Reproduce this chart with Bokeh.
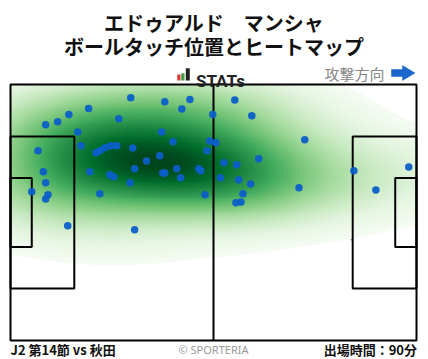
import numpy as np
from bokeh.plotting import figure
from bokeh.models import Range1d, Label, LinearColorMapper
from bokeh.palettes import Greens256
from bokeh.embed import file_html
from bokeh.resources import INLINE

# ---------------- data ----------------
PLAYER = "エドゥアルド　マンシャ"
SUBTITLE = "ボールタッチ位置とヒートマップ"
MATCH = "J2 第14節 vs 秋田"
MINUTES = "出場時間：90分"
DIRECTION = "攻撃方向"

# pitch (m)
PITCH_L, PITCH_W = 105.0, 68.0
PEN_D, PEN_W = 16.5, 40.32
GA_D, GA_W = 5.5, 18.32
CIRCLE_R = 9.15
SPOT_D = 11.0

# ball touches (m), x toward attacking direction, y up
TOUCH_X = [31.1, 39.9, 46.4, 44.3, 20.2, 15.1, 12.2, 9.1, 28.0, 52.3,
           17.4, 39.1, 42.0, 51.5, 53.1, 50.8, 7.1, 18.2, 22.1, 23.1,
           24.4, 25.9, 27.5, 31.6, 38.6, 35.2, 32.1, 43.0, 48.7, 49.2,
           54.3, 39.4, 39.9, 44.0, 20.5, 25.7, 26.7, 30.9, 8.5, 9.1,
           5.5, 9.7, 9.1, 23.1, 50.3, 14.8, 32.1, 58.0, 62.4, 76.1,
           64.2, 55.2, 58.5, 59.0, 62.1, 60.1, 58.3, 59.6, 74.6, 88.8,
           94.5, 103.0]
TOUCH_Y = [64.5, 63.4, 64.0, 61.5, 61.6, 60.0, 58.1, 57.3, 58.9, 60.0,
           55.4, 55.4, 52.8, 53.0, 52.5, 50.4, 50.4, 51.7, 49.9, 50.4,
           51.2, 51.7, 51.7, 51.1, 49.1, 47.7, 45.6, 45.6, 45.6, 45.1,
           43.2, 44.5, 44.5, 43.2, 44.8, 44.0, 43.5, 41.9, 44.8, 41.9,
           39.5, 38.7, 37.6, 39.0, 38.7, 30.5, 29.4, 63.9, 59.7, 53.3,
           48.3, 47.2, 46.7, 42.7, 41.6, 39.0, 36.6, 36.8, 40.6, 45.1,
           40.0, 46.1]

# ---------------- layout ----------------
W, H = 428, 359
SX = 406.0 / PITCH_L
SY = 256.0 / PITCH_W
X0 = -10.0 / SX
X1 = X0 + W / SX
Y1 = PITCH_W + 84.0 / SY
Y0 = Y1 - H / SY


def px(xp):
    return X0 + xp / SX


def py(yp):
    return Y1 - yp / SY


p = figure(width=W, height=H, x_range=Range1d(X0, X1), y_range=Range1d(Y0, Y1),
           output_backend="svg", toolbar_location=None, min_border=0)
p.axis.visible = False
p.grid.visible = False
p.outline_line_color = None
p.background_fill_color = "white"
p.border_fill_color = "white"

# arcs (under heatmap)
p.circle(x=[PITCH_L / 2], y=[PITCH_W / 2], radius=CIRCLE_R, fill_color=None,
         line_color="black", line_width=1)
ang = np.arccos((PEN_D - SPOT_D) / CIRCLE_R)
p.arc(x=[SPOT_D], y=[PITCH_W / 2], radius=CIRCLE_R, start_angle=-ang, end_angle=ang,
      line_color="black", line_width=1)
p.arc(x=[PITCH_L - SPOT_D], y=[PITCH_W / 2], radius=CIRCLE_R,
      start_angle=np.pi - ang, end_angle=np.pi + ang, line_color="black", line_width=1)

# heatmap (KDE of touches)
xs = np.array(TOUCH_X)
ys = np.array(TOUCH_Y)
n = len(xs)
fac = n ** (-1.0 / 6.0) * 1.6
cov = np.cov(np.vstack([xs, ys])) * fac ** 2
inv = np.linalg.inv(cov)
gx = np.linspace(0, PITCH_L, 421)
gy = np.linspace(0, PITCH_W, 273)
GX, GY = np.meshgrid(gx, gy)
dx = GX.ravel()[None, :] - xs[:, None]
dy = GY.ravel()[None, :] - ys[:, None]
q = inv[0, 0] * dx * dx + 2 * inv[0, 1] * dx * dy + inv[1, 1] * dy * dy
dens = np.exp(-0.5 * q).sum(axis=0).reshape(GX.shape)
dmax = dens.max()
thr = 0.028 * dmax
t = np.clip((dens - thr) / (dmax - thr), 0, 1) ** 0.8
img = np.where(dens >= thr, t, np.nan)
mapper = LinearColorMapper(palette=list(Greens256)[::-1], low=0, high=1,
                           nan_color="rgba(0,0,0,0)")
p.image(image=[img], x=0, y=0, dw=PITCH_L, dh=PITCH_W, color_mapper=mapper)

# pitch lines
lw = 2
p.quad(left=[0], right=[PITCH_L], bottom=[0], top=[PITCH_W], fill_color=None,
       line_color="black", line_width=lw)
p.segment(x0=[PITCH_L / 2], y0=[0], x1=[PITCH_L / 2], y1=[PITCH_W],
          line_color="black", line_width=lw)
cy = PITCH_W / 2
p.quad(left=[0, PITCH_L - PEN_D, 0, PITCH_L - GA_D],
       right=[PEN_D, PITCH_L, GA_D, PITCH_L],
       bottom=[cy - PEN_W / 2, cy - PEN_W / 2, cy - GA_W / 2, cy - GA_W / 2],
       top=[cy + PEN_W / 2, cy + PEN_W / 2, cy + GA_W / 2, cy + GA_W / 2],
       fill_color=None, line_color="black", line_width=lw)

# touches
p.scatter(x=xs, y=ys, size=7.5, fill_color="#0b5fc9", line_color=None, fill_alpha=0.95)

# ---------------- texts ----------------
JP = "Noto Sans CJK JP"
p.add_layout(Label(x=px(213.5), y=py(21.5), text=PLAYER, text_align="center",
                   text_baseline="middle", text_font=JP, text_font_size="20px",
                   text_font_style="bold", text_color="#111111"))
p.add_layout(Label(x=px(213.5), y=py(46), text=SUBTITLE, text_align="center",
                   text_baseline="middle", text_font=JP, text_font_size="20px",
                   text_font_style="bold", text_color="#111111"))

# STATs logo
p.quad(left=[px(176.7), px(180.7), px(185.3)], right=[px(180), px(184), px(189.3)],
       bottom=[py(80)] * 3, top=[py(74), py(72.7), py(67.7)],
       fill_color=["#e53935", "#43a047", "#222222"], line_color=None)
p.add_layout(Label(x=px(195.5), y=py(80.5), text="STATs", text_align="left",
                   text_baseline="alphabetic", text_font="Roboto", text_font_size="17px",
                   text_font_style="bold", text_color="#222222"))

# attack direction
p.add_layout(Label(x=px(384), y=py(72.5), text=DIRECTION, text_align="right",
                   text_baseline="middle", text_font=JP, text_font_size="15px",
                   text_color="#888888"))
p.patch(x=[px(391), px(402), px(402), px(414.5), px(402), px(402), px(391)],
        y=[py(69), py(69), py(65), py(72.5), py(80), py(76), py(76)],
        fill_color="#1a66cc", line_color="#1a66cc", line_width=0.5)

# footer
p.add_layout(Label(x=px(10), y=py(349), text=MATCH, text_align="left",
                   text_baseline="middle", text_font=JP, text_font_size="13px",
                   text_font_style="bold", text_color="#111111"))
p.add_layout(Label(x=px(213), y=py(348.5), text="© SPORTERIA", text_align="center",
                   text_baseline="middle", text_font="Noto Sans", text_font_size="11px",
                   text_color="#999999"))
p.add_layout(Label(x=px(416.5), y=py(349), text=MINUTES, text_align="right",
                   text_baseline="middle", text_font=JP, text_font_size="13px",
                   text_font_style="bold", text_color="#111111"))

open("out.html", "w").write(file_html(p, INLINE))
